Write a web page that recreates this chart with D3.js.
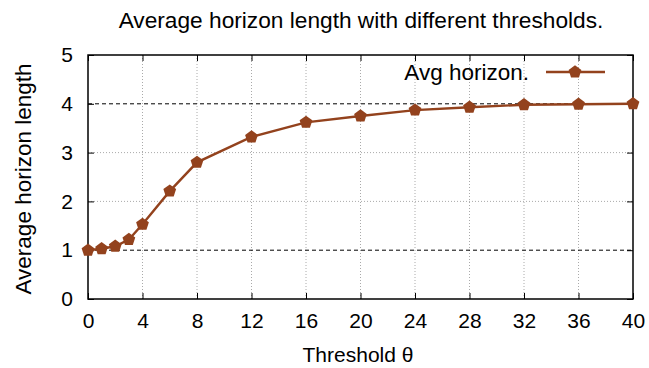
<!DOCTYPE html>
<html>
<head>
<meta charset="utf-8">
<script src="https://cdn.jsdelivr.net/npm/d3@7"></script>
<style>
  body { margin: 0; background: #fff; }
  svg { font-family: "Liberation Sans", Arial, sans-serif; }
</style>
</head>
<body>
<script>
// data
const thresholds = [0, 1, 2, 3, 4, 6, 8, 12, 16, 20, 24, 28, 32, 36, 40];
const avgHorizon = [1.0, 1.03, 1.08, 1.22, 1.53, 2.21, 2.80, 3.32, 3.62, 3.75, 3.87, 3.93, 3.98, 3.99, 4.0];
const xTicks = [0, 4, 8, 12, 16, 20, 24, 28, 32, 36, 40];
const yTicks = [0, 1, 2, 3, 4, 5];
const dashedY = [1, 4];

const width = 649, height = 368;
const margins = {top: 55, right: 16, bottom: 69, left: 88};
const color = '#93421d';

const svg = d3.select('body').append('svg')
    .attr('width', width)
    .attr('height', height);

const w = width - margins.left - margins.right,
      h = height - margins.top - margins.bottom;

const g = svg.append('g')
    .attr('transform', `translate(${margins.left},${margins.top})`);

const xScale = d3.scaleLinear().domain([0, 40]).range([0, w]);
const yScale = d3.scaleLinear().domain([0, 5]).range([h, 0]);

// grid
g.selectAll('line.vgrid').data(xTicks.slice(1, -1)).enter().append('line')
    .attr('x1', d => xScale(d)).attr('x2', d => xScale(d))
    .attr('y1', 0).attr('y2', h)
    .attr('stroke', '#aaa').attr('stroke-width', 1)
    .attr('stroke-dasharray', '1,2');
g.selectAll('line.hgrid').data(yTicks.filter(d => d > 0 && d < 5 && !dashedY.includes(d))).enter().append('line')
    .attr('x1', 0).attr('x2', w)
    .attr('y1', d => yScale(d)).attr('y2', d => yScale(d))
    .attr('stroke', '#aaa').attr('stroke-width', 1)
    .attr('stroke-dasharray', '1,2');
g.selectAll('line.hdash').data(dashedY).enter().append('line')
    .attr('x1', 0).attr('x2', w)
    .attr('y1', d => yScale(d)).attr('y2', d => yScale(d))
    .attr('stroke', '#000').attr('stroke-width', 1)
    .attr('stroke-dasharray', '4,3');

// axes (ticks inward on all four sides)
const axisStyle = sel => {
    sel.select('.domain').remove();
    sel.selectAll('text').attr('font-size', 21).attr('fill', '#000')
        .attr('font-family', '"Liberation Sans", Arial, sans-serif');
    sel.selectAll('line').attr('stroke', '#000');
};
g.append('g').attr('transform', `translate(0,${h})`)
    .call(d3.axisBottom(xScale).tickValues(xTicks).tickSizeInner(-6).tickPadding(14))
    .call(axisStyle);
g.append('g')
    .call(d3.axisTop(xScale).tickValues(xTicks).tickSizeInner(-6).tickFormat(''))
    .call(axisStyle);
g.append('g')
    .call(d3.axisLeft(yScale).tickValues(yTicks).tickSizeInner(-6).tickPadding(15).tickFormat(d3.format('d')))
    .call(axisStyle);
g.append('g').attr('transform', `translate(${w},0)`)
    .call(d3.axisRight(yScale).tickValues(yTicks).tickSizeInner(-6).tickFormat(''))
    .call(axisStyle);

// frame
g.append('rect').attr('width', w).attr('height', h)
    .attr('fill', 'none').attr('stroke', '#000').attr('stroke-width', 1.5);

// series
const pts = thresholds.map((t, i) => ({x: t, y: avgHorizon[i]}));
const pentagon = d3.symbol().type({
    draw(ctx, size) {
        const r = Math.sqrt(size / 2.4);
        for (let i = 0; i < 5; i++) {
            const a = -Math.PI / 2 + i * 2 * Math.PI / 5;
            const px = r * Math.cos(a), py = r * Math.sin(a);
            if (i === 0) ctx.moveTo(px, py); else ctx.lineTo(px, py);
        }
        ctx.closePath();
    }
}).size(108);

g.append('path').datum(pts)
    .attr('fill', 'none').attr('stroke', color).attr('stroke-width', 2.4)
    .attr('d', d3.line().x(d => xScale(d.x)).y(d => yScale(d.y)));
g.selectAll('path.pt').data(pts).enter().append('path')
    .attr('class', 'pt')
    .attr('transform', d => `translate(${xScale(d.x)},${yScale(d.y)})`)
    .attr('d', pentagon)
    .attr('fill', color);

// legend
const leg = g.append('g').attr('transform', `translate(${w - 87},${17})`);
leg.append('text').attr('x', -17).attr('y', 8).attr('text-anchor', 'end')
    .attr('font-size', 22.5).text('Avg horizon.');
leg.append('line').attr('x1', 0).attr('x2', 59).attr('y1', 0).attr('y2', 0)
    .attr('stroke', color).attr('stroke-width', 2.4);
leg.append('path').attr('transform', 'translate(29,0)').attr('d', pentagon).attr('fill', color);

// titles
svg.append('text').attr('x', 361).attr('y', 28).attr('text-anchor', 'middle')
    .attr('font-size', 22.7).text('Average horizon length with different thresholds.');
svg.append('text').attr('x', 358).attr('y', 362).attr('text-anchor', 'middle')
    .attr('font-size', 21).text('Threshold θ');
svg.append('text').attr('transform', `translate(31,${margins.top + h / 2 + 2}) rotate(-90)`)
    .attr('text-anchor', 'middle').attr('font-size', 22.5).text('Average horizon length');
</script>
</body>
</html>
